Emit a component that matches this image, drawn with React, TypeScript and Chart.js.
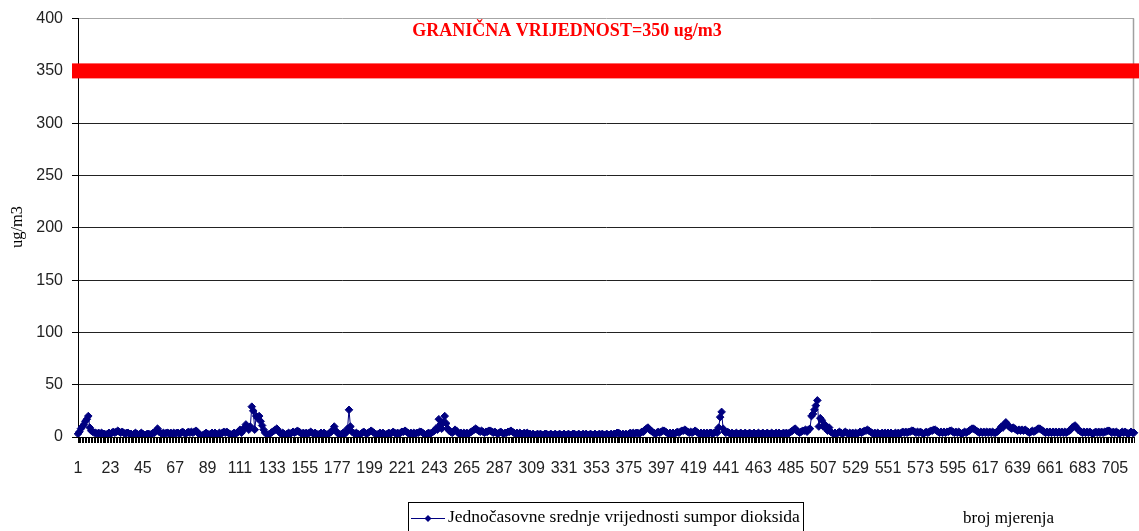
import React, { useEffect, useRef } from "react";
import { Chart, registerables } from "chart.js";

Chart.register(...registerables);

const LIMIT = 350;
const LIMIT_LABEL = "GRANIČNA VRIJEDNOST=350 ug/m3";
const SERIES_LABEL = "Jednočasovne srednje vrijednosti sumpor dioksida";
const Y_TITLE = "ug/m3";
const X_TITLE = "broj mjerenja";
const Y_MIN = 0;
const Y_MAX = 400;
const Y_STEP = 50;
const LABEL_EVERY = 22;

// hourly SO2 means, one row per 22 measurements
const SO2: number[] = [
  3, 5, 8, 10, 12, 15, 17, 20, 9, 6, 5, 4, 4, 3, 4, 3, 4, 3, 3, 2, 3, 4,
  3, 4, 5, 4, 5, 6, 5, 4, 5, 4, 3, 4, 4, 3, 3, 2, 3, 4, 3, 2, 3, 4,
  3, 2, 2, 3, 3, 2, 3, 4, 4, 6, 8, 5, 4, 3, 4, 3, 4, 4, 3, 4, 3, 4,
  3, 4, 4, 3, 4, 5, 4, 3, 4, 5, 4, 5, 4, 5, 6, 5, 3, 2, 1, 2, 3, 4,
  3, 2, 3, 4, 3, 4, 3, 2, 4, 3, 4, 5, 4, 5, 4, 3, 2, 3, 4, 3, 4, 5,
  7, 4, 6, 9, 12, 9, 7, 10, 29, 25, 7, 20, 18, 20, 15, 11, 7, 4, 3, 2, 3, 4,
  5, 6, 7, 8, 6, 4, 3, 4, 3, 2, 3, 4, 3, 4, 5, 4, 5, 6, 5, 4, 3, 4,
  3, 4, 3, 4, 5, 4, 3, 4, 3, 2, 3, 4, 3, 4, 3, 2, 3, 4, 5, 7, 10, 6,
  4, 3, 2, 3, 4, 3, 4, 8, 26, 10, 5, 4, 3, 4, 3, 2, 3, 4, 5, 4, 3, 4,
  5, 6, 5, 4, 3, 2, 3, 4, 3, 4, 3, 2, 3, 4, 3, 4, 5, 4, 3, 4, 3, 4,
  5, 5, 6, 5, 4, 3, 4, 3, 4, 3, 4, 4, 5, 5, 4, 3, 2, 3, 4, 3, 4, 5,
  6, 8, 7, 17, 12, 8, 14, 20, 13, 8, 6, 5, 4, 5, 7, 6, 4, 3, 4, 3, 4, 3,
  4, 3, 4, 5, 6, 7, 8, 7, 6, 5, 6, 5, 4, 5, 5, 6, 6, 5, 4, 5, 4, 3,
  4, 5, 4, 3, 4, 4, 5, 5, 6, 5, 4, 3, 4, 3, 4, 3, 3, 4, 3, 4, 3, 3,
  2, 3, 2, 2, 3, 2, 3, 2, 2, 3, 3, 2, 2, 3, 2, 2, 3, 2, 2, 3, 2, 2,
  3, 2, 2, 3, 2, 2, 3, 3, 2, 2, 3, 2, 2, 3, 2, 3, 2, 2, 3, 2, 2, 3,
  2, 2, 3, 2, 3, 2, 2, 3, 2, 2, 3, 2, 3, 3, 4, 4, 3, 2, 3, 2, 3, 2,
  3, 4, 3, 4, 3, 4, 4, 3, 4, 5, 5, 7, 8, 9, 7, 6, 5, 4, 3, 4, 5, 4,
  5, 6, 6, 5, 4, 3, 4, 3, 4, 3, 4, 5, 4, 5, 6, 6, 7, 6, 5, 4, 5, 4,
  5, 6, 5, 4, 3, 4, 3, 4, 3, 4, 3, 4, 4, 3, 4, 5, 4, 9, 19, 24, 8, 5,
  4, 5, 4, 3, 4, 3, 3, 4, 3, 3, 4, 3, 3, 4, 3, 3, 4, 3, 3, 4, 3, 3,
  4, 3, 3, 4, 3, 3, 4, 3, 3, 4, 3, 3, 4, 3, 4, 3, 3, 4, 3, 4, 3, 4,
  5, 6, 7, 8, 6, 5, 4, 5, 6, 6, 7, 5, 7, 8, 20, 22, 26, 30, 35, 10, 18, 16,
  10, 12, 8, 6, 9, 5, 4, 3, 4, 3, 4, 5, 4, 3, 4, 5, 4, 3, 4, 3, 4, 3,
  4, 3, 4, 5, 4, 5, 6, 6, 7, 6, 5, 4, 3, 4, 3, 4, 3, 3, 4, 3, 4, 3,
  4, 3, 4, 3, 3, 4, 3, 4, 3, 4, 5, 4, 5, 4, 5, 5, 6, 6, 5, 4, 5, 4,
  5, 4, 3, 4, 5, 4, 5, 6, 6, 7, 7, 6, 5, 4, 5, 4, 5, 4, 5, 5, 6, 6,
  5, 4, 5, 4, 5, 4, 3, 4, 5, 4, 5, 6, 7, 8, 8, 7, 6, 5, 4, 5, 4, 5,
  4, 5, 4, 5, 4, 5, 4, 4, 5, 6, 8, 10, 9, 12, 14, 12, 10, 9, 8, 9, 8, 7,
  6, 7, 6, 7, 6, 7, 6, 5, 4, 5, 6, 5, 6, 7, 8, 8, 7, 6, 5, 4, 5, 4,
  5, 4, 5, 4, 5, 4, 5, 4, 5, 4, 5, 4, 5, 6, 7, 9, 10, 11, 9, 7, 6, 5,
  4, 5, 4, 5, 4, 5, 4, 3, 4, 5, 4, 5, 4, 5, 4, 5, 5, 6, 6, 5, 4, 5,
  4, 5, 4, 3, 4, 5, 4, 5, 4, 3, 4, 5, 4, 4,
];

const CATEGORIES: string[] = SO2.map((_, i) => String(i + 1));

const SERIES_COLOR = "#000080";
const LIMIT_COLOR = "#ff0000";
const SERIF = "'Liberation Serif', 'Times New Roman', serif";
const SANS = "'Liberation Sans', Arial, sans-serif";

const decorPlugin = {
  id: "decor",
  beforeDatasetsDraw(chart: any) {
    const { ctx, chartArea, scales } = chart;
    const y = scales.y.getPixelForValue(LIMIT);
    ctx.save();
    // right plot border
    ctx.strokeStyle = "#a0a0a0";
    ctx.lineWidth = 1.5;
    ctx.beginPath();
    ctx.moveTo(chartArea.right - 0.5, chartArea.top);
    ctx.lineTo(chartArea.right - 0.5, chartArea.bottom);
    ctx.stroke();
    // limit line
    ctx.fillStyle = LIMIT_COLOR;
    ctx.fillRect(chartArea.left - 6, y - 7.5, chart.width - (chartArea.left - 6), 15);
    ctx.restore();
  },
  afterDraw(chart: any) {
    const { ctx, scales } = chart;
    ctx.save();

    // x category labels (every 22nd measurement)
    ctx.fillStyle = "#222";
    ctx.font = `16px ${SANS}`;
    ctx.textAlign = "center";
    ctx.textBaseline = "alphabetic";
    CATEGORIES.forEach((lab, i) => {
      if (i % LABEL_EVERY !== 0) return;
      const x = scales.x.getPixelForValue(i);
      ctx.fillText(lab, x, 473);
    });

    // limit label
    ctx.fillStyle = LIMIT_COLOR;
    ctx.font = `bold 18px ${SERIF}`;
    ctx.textAlign = "center";
    ctx.fillText(LIMIT_LABEL, 567, 36);

    // y title
    ctx.fillStyle = "#000";
    ctx.font = `16.5px ${SERIF}`;
    ctx.save();
    ctx.translate(18, 227);
    ctx.rotate(-Math.PI / 2);
    ctx.textAlign = "center";
    ctx.textBaseline = "middle";
    ctx.fillText(Y_TITLE, 0, 0);
    ctx.restore();

    // legend box
    ctx.strokeStyle = "#000";
    ctx.lineWidth = 1;
    ctx.strokeRect(408.5, 502.5, 395, 40);
    ctx.strokeStyle = SERIES_COLOR;
    ctx.beginPath();
    ctx.moveTo(411, 518.5);
    ctx.lineTo(445, 518.5);
    ctx.stroke();
    ctx.fillStyle = SERIES_COLOR;
    ctx.beginPath();
    ctx.moveTo(428, 515);
    ctx.lineTo(431.5, 518.5);
    ctx.lineTo(428, 522);
    ctx.lineTo(424.5, 518.5);
    ctx.closePath();
    ctx.fill();
    ctx.fillStyle = "#000";
    ctx.font = `17.5px ${SERIF}`;
    ctx.textAlign = "left";
    ctx.textBaseline = "alphabetic";
    ctx.fillText(SERIES_LABEL, 448, 522);

    // x title
    ctx.font = `17px ${SERIF}`;
    ctx.fillText(X_TITLE, 963, 523);
    ctx.restore();
  },
};

export default function App() {
  const canvasRef = useRef<HTMLCanvasElement | null>(null);

  useEffect(() => {
    document.body.style.margin = "0";
    const canvas = canvasRef.current;
    if (!canvas) return;
    const chart = new Chart(canvas, {
      type: "line",
      data: {
        labels: CATEGORIES,
        datasets: [
          {
            label: SERIES_LABEL,
            data: SO2,
            borderColor: SERIES_COLOR,
            backgroundColor: SERIES_COLOR,
            borderWidth: 1,
            pointStyle: "rectRot",
            pointRadius: 3.8,
            pointBorderWidth: 1,
            pointBackgroundColor: SERIES_COLOR,
            pointBorderColor: SERIES_COLOR,
            tension: 0,
            fill: false,
          },
        ],
      },
      options: {
        responsive: false,
        animation: false,
        devicePixelRatio: 1,
        layout: { padding: { left: 0, right: 2, top: 18, bottom: 0 } },
        plugins: {
          legend: { display: false },
          title: { display: false },
          tooltip: { enabled: false },
        },
        events: [],
        scales: {
          x: {
            type: "category",
            offset: false,
            grid: {
              display: true,
              drawOnChartArea: false,
              drawTicks: true,
              tickLength: 6,
              tickColor: "#000",
              color: "#000",
            },
            border: { display: true, color: "#000", width: 1 },
            ticks: {
              autoSkip: false,
              maxRotation: 0,
              minRotation: 0,
              padding: 0,
              font: { family: SANS, size: 16 },
              callback: () => "",
            },
            afterFit: (scale: any) => {
              scale.height = 94;
              scale.paddingLeft = 0;
              scale.paddingRight = 0;
            },
          },
          y: {
            min: Y_MIN,
            max: Y_MAX,
            grid: {
              drawTicks: true,
              tickLength: 6,
              color: (c: any) => (c.tick && c.tick.value === Y_MAX ? "#a6a6a6" : "#222"),
              tickColor: "#000",
              lineWidth: 1,
            },
            border: { display: true, color: "#000", width: 1 },
            ticks: {
              stepSize: Y_STEP,
              padding: 9,
              color: "#222",
              font: { family: SANS, size: 16 },
            },
            afterFit: (scale: any) => {
              scale.width = 78;
            },
          },
        },
      },
      plugins: [decorPlugin],
    });
    return () => chart.destroy();
  }, []);

  return (
    <div style={{ position: "absolute", left: 0, top: 0, width: 1139, height: 531 }}>
      <canvas ref={canvasRef} width={1139} height={531} />
    </div>
  );
}
